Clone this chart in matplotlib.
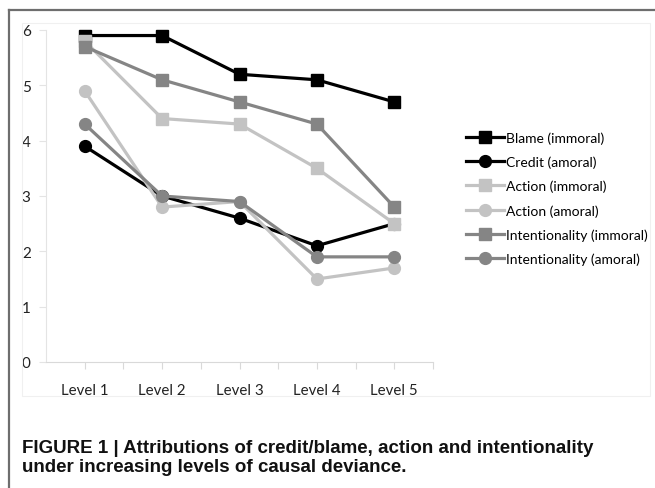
import matplotlib
matplotlib.use('Agg')
import matplotlib.pyplot as plt
import numpy as np

# data
levels = ['Level 1', 'Level 2', 'Level 3', 'Level 4', 'Level 5']
blame_immoral = [5.9, 5.9, 5.2, 5.1, 4.7]
credit_amoral = [3.9, 3.0, 2.6, 2.1, 2.5]
action_immoral = [5.8, 4.4, 4.3, 3.5, 2.5]
action_amoral = [4.9, 2.8, 2.9, 1.5, 1.7]
intent_immoral = [5.7, 5.1, 4.7, 4.3, 2.8]
intent_amoral = [4.3, 3.0, 2.9, 1.9, 1.9]

series = [
    ('Blame (immoral)', blame_immoral, 'black', 's'),
    ('Credit (amoral)', credit_amoral, 'black', 'o'),
    ('Action (immoral)', action_immoral, '#c3c3c3', 's'),
    ('Action (amoral)', action_amoral, '#c3c3c3', 'o'),
    ('Intentionality (immoral)', intent_immoral, '#858585', 's'),
    ('Intentionality (amoral)', intent_amoral, '#858585', 'o'),
]

fig = plt.figure(figsize=(6.55, 4.89), dpi=100)
W, H = 655.0, 489.0

# outer frame (top and left edge only)
fig.add_artist(plt.Line2D([9 / W, 1], [1 - 10.5 / H, 1 - 10.5 / H], color='#6e6e6e', lw=1.6))
fig.add_artist(plt.Line2D([9 / W, 9 / W], [0, 1 - 10.5 / H], color='#6e6e6e', lw=1.6))
# faint chart area
fig.add_artist(plt.Rectangle((22 / W, 1 - 397 / H), 628 / W, 373 / H, fill=False,
                             edgecolor='#f0f0f0', lw=0.8))

ax = fig.add_axes([46 / W, 1 - 363 / H, 387 / W, 332 / H])
x = np.arange(1, len(levels) + 1)
for name, vals, col, mk in series:
    ax.plot(x, vals, color=col, marker=mk, markersize=8.5,
            lw=2.3, label=name, clip_on=False)

ax.set_xlim(0.5, 5.5)
ax.set_ylim(0, 6)
ax.set_yticks(range(0, 7))
ax.set_xticks(np.arange(1, 5.51, 0.5))
ax.set_xticklabels([lv if i % 2 == 0 else '' for i, lv in
                    enumerate([l for l in levels for _ in (0, 1)])])
for s in ['top', 'right']:
    ax.spines[s].set_visible(False)
ax.spines['left'].set_color('#e4e4e4')
ax.spines['bottom'].set_color('#d9d9d9')
ax.tick_params(axis='y', length=5, color='#e4e4e4', labelsize=11, pad=6)
ax.tick_params(axis='x', length=5, color='#d9d9d9', labelsize=10.8, pad=10)
for t in ax.get_xticklabels() + ax.get_yticklabels():
    t.set_family('Lato')
    t.set_color('#222222')

leg = ax.legend(loc='upper left', bbox_to_anchor=(466 / W, 1 - 132 / H),
                bbox_transform=fig.transFigure, frameon=False,
                handlelength=2.7, handletextpad=0.15, labelspacing=0.85,
                borderaxespad=0, borderpad=0, prop={'family': 'Lato', 'size': 10})

caption = ['FIGURE 1 | Attributions of credit/blame, action and intentionality',
           'under increasing levels of causal deviance.']
for i, line in enumerate(caption):
    fig.text(22 / W, 1 - (453 + 19 * i) / H, line, family='Liberation Sans',
             weight='bold', fontsize=13.5, va='baseline', color='#111111')

fig.savefig('out.png', dpi=100)
